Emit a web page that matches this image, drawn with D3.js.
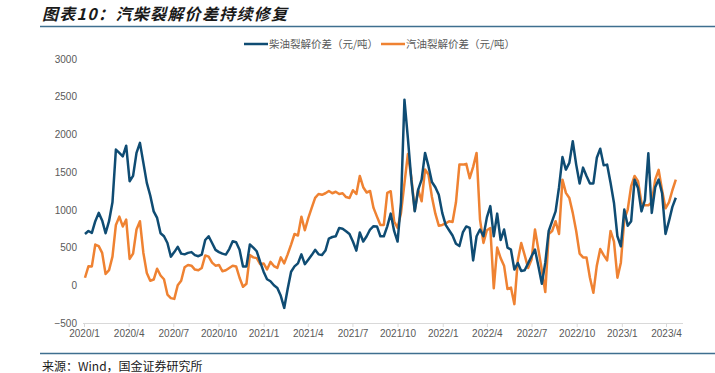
<!DOCTYPE html>
<html><head><meta charset="utf-8">
<script src="https://cdn.jsdelivr.net/npm/d3@7"></script>
<style>
html,body{margin:0;padding:0;background:#fff;}
svg{display:block;}
</style></head>
<body>
<svg id="chart" width="715" height="373"></svg>
<script>
const title = "图表10：汽柴裂解价差持续修复";
const source = "来源：Wind，国金证券研究所";
const seriesNames = ["柴油裂解价差（元/吨）", "汽油裂解价差（元/吨）"];
const seriesColors = ["#0f4c73", "#ef8232"];
const xTickLabels = ["2020/1","2020/4","2020/7","2020/10","2021/1","2021/4","2021/7","2021/10","2022/1","2022/4","2022/7","2022/10","2023/1","2023/4"];
const yTicks = [-500, 0, 500, 1000, 1500, 2000, 2500, 3000];

const dates = [
"2020-01-03","2020-01-10","2020-01-17","2020-01-24","2020-01-31","2020-02-07","2020-02-14","2020-02-21","2020-02-28",
"2020-03-06","2020-03-13","2020-03-20","2020-03-27","2020-04-03","2020-04-10","2020-04-17","2020-04-24",
"2020-05-01","2020-05-08","2020-05-15","2020-05-22","2020-05-29","2020-06-05","2020-06-12","2020-06-19","2020-06-26",
"2020-07-03","2020-07-10","2020-07-17","2020-07-24","2020-07-31","2020-08-07","2020-08-14","2020-08-21","2020-08-28",
"2020-09-04","2020-09-11","2020-09-18","2020-09-25","2020-10-02","2020-10-09","2020-10-16","2020-10-23","2020-10-30",
"2020-11-06","2020-11-13","2020-11-20","2020-11-27","2020-12-04","2020-12-11","2020-12-18","2020-12-25",
"2021-01-01","2021-01-08","2021-01-15","2021-01-22","2021-01-29","2021-02-05","2021-02-12","2021-02-19","2021-02-26",
"2021-03-05","2021-03-12","2021-03-19","2021-03-26","2021-04-02","2021-04-09","2021-04-16","2021-04-23","2021-04-30",
"2021-05-07","2021-05-14","2021-05-21","2021-05-28","2021-06-04","2021-06-11","2021-06-18","2021-06-25",
"2021-07-02","2021-07-09","2021-07-16","2021-07-23","2021-07-30","2021-08-06","2021-08-13","2021-08-20","2021-08-27",
"2021-09-03","2021-09-10","2021-09-17","2021-09-24","2021-10-01","2021-10-08","2021-10-15","2021-10-22","2021-10-29",
"2021-11-05","2021-11-12","2021-11-19","2021-11-26","2021-12-03","2021-12-10","2021-12-17","2021-12-24","2021-12-31",
"2022-01-07","2022-01-14","2022-01-21","2022-01-28","2022-02-04","2022-02-11","2022-02-18","2022-02-25",
"2022-03-04","2022-03-11","2022-03-18","2022-03-25","2022-04-01","2022-04-08","2022-04-15","2022-04-22","2022-04-29",
"2022-05-06","2022-05-13","2022-05-20","2022-05-27","2022-06-03","2022-06-10","2022-06-17","2022-06-24",
"2022-07-01","2022-07-08","2022-07-15","2022-07-22","2022-07-29","2022-08-05","2022-08-12","2022-08-19","2022-08-26",
"2022-09-02","2022-09-09","2022-09-16","2022-09-23","2022-09-30","2022-10-07","2022-10-14","2022-10-21","2022-10-28",
"2022-11-04","2022-11-11","2022-11-18","2022-11-25","2022-12-02","2022-12-09","2022-12-16","2022-12-23","2022-12-30",
"2023-01-06","2023-01-13","2023-01-20","2023-01-27","2023-02-03","2023-02-10","2023-02-17","2023-02-24",
"2023-03-03","2023-03-10","2023-03-17","2023-03-24","2023-03-31","2023-04-07","2023-04-14","2023-04-21"
];

const diesel = [
680,720,695,850,960,860,690,850,1100,
1799,1755,1710,1850,1380,1450,1755,1888,
1623,1358,1190,980,893,690,650,561,380,
440,510,420,410,430,440,400,385,407,
600,650,560,470,440,420,407,480,583,
570,470,250,250,540,500,451,310,
180,80,54,0,-35,-140,-300,-50,180,
250,290,410,280,340,400,470,410,400,
460,620,640,650,760,750,717,680,
580,460,700,580,650,739,783,780,650,
650,782,950,720,580,1100,2460,1950,1400,
980,1269,1402,1755,1579,1370,1300,1200,960,
800,730,660,550,520,700,780,760,
330,650,739,650,900,1050,650,950,600,
739,500,473,208,296,190,200,290,
385,473,252,20,300,720,850,980,1300,
1700,1534,1623,1910,1600,1350,1560,1450,1350,
1350,1690,1810,1590,1600,1358,1092,650,517,
1004,790,850,1400,1290,980,1130,1750,
960,1300,1402,1220,680,850,1040,1160
];

const gasoline = [
100,252,250,540,520,430,150,200,380,
800,910,780,870,350,420,739,849,
429,164,60,76,220,130,80,-123,-170,
-180,0,60,240,270,260,208,200,230,
395,380,300,260,270,186,200,230,260,
250,100,-20,20,400,370,360,280,
290,210,310,255,230,370,290,410,540,
680,660,910,730,890,1026,1158,1210,1200,
1220,1250,1220,1240,1210,1220,1170,1158,
1260,1210,1450,1300,1230,1250,1026,910,800,
800,1225,1247,849,760,960,1350,1740,1430,
990,1269,1114,1534,1468,1170,950,790,800,
820,850,840,1100,1600,1600,1610,1420,
1570,1755,871,562,730,760,-40,500,360,
260,-50,-30,-250,330,560,400,230,
340,739,473,200,-90,680,720,850,680,
1400,1225,1158,960,720,420,370,370,100,
-100,260,480,400,330,720,580,100,300,
871,1004,1313,1450,1380,1092,1060,1060,
1100,1400,1530,1260,1020,1100,1260,1400
];

const svg = d3.select("#chart");
const parse = d3.timeParse("%Y-%m-%d");
const parseTick = d3.timeParse("%Y/%m");

const x = d3.scaleTime()
  .domain([parse("2020-01-01"), parse("2023-04-01")])
  .range([84, 666]);
const y = d3.scaleLinear().domain([-500, 3000]).range([323, 59]);

// Title
svg.append("text")
  .attr("x", 42).attr("y", 20)
  .attr("font-family", "'Noto Sans CJK SC', sans-serif")
  .attr("font-size", 16).attr("font-weight", "bold").attr("font-style", "italic")
  .attr("letter-spacing", 1.3)
  .attr("fill", "#1a1a1a")
  .text(title);
svg.append("line").attr("x1", 40).attr("x2", 715).attr("y1", 26.5).attr("y2", 26.5)
  .attr("stroke", "#3f6f8f").attr("stroke-width", 1.5);

// Footer
svg.append("line").attr("x1", 40).attr("x2", 715).attr("y1", 353.5).attr("y2", 353.5)
  .attr("stroke", "#3f6f8f").attr("stroke-width", 1.5);
svg.append("text")
  .attr("x", 42).attr("y", 371)
  .attr("font-family", "'Noto Sans CJK SC', sans-serif")
  .attr("font-size", 12).attr("fill", "#1a1a1a")
  .text(source);

// Y axis labels
const yAxis = d3.axisLeft(y).tickValues(yTicks).tickFormat(d3.format("d")).tickSize(0).tickPadding(0);
const gy = svg.append("g").attr("transform", "translate(77,0)").call(yAxis);
gy.select(".domain").remove();
gy.selectAll("text")
  .attr("font-family", "'Liberation Sans', Arial, sans-serif")
  .attr("font-size", 10).attr("fill", "#595959");

// X axis
const xAxis = d3.axisBottom(x)
  .tickValues(xTickLabels.map(parseTick))
  .tickFormat((d, i) => xTickLabels[i])
  .tickSize(4).tickPadding(3).tickSizeOuter(0);
const gx = svg.append("g").attr("transform", "translate(0,323)").call(xAxis);
gx.select(".domain").attr("stroke", "#d9d9d9").attr("d", "M83,0.5H683");
gx.selectAll(".tick line").attr("stroke", "#d9d9d9");
gx.selectAll("text")
  .attr("font-family", "'Liberation Sans', Arial, sans-serif")
  .attr("font-size", 10).attr("fill", "#595959");

// Lines
const series = [diesel, gasoline];
const line = d3.line()
  .x((d, i) => x(parse(dates[i])))
  .y(d => y(d));
series.slice().reverse().forEach((vals, j) => {
  const idx = series.length - 1 - j;
  svg.append("path")
    .datum(vals)
    .attr("fill", "none")
    .attr("stroke", seriesColors[idx])
    .attr("stroke-width", 2.5)
    .attr("stroke-linejoin", "round")
    .attr("d", line);
});

// Legend
const legendX = [244, 381];
seriesNames.forEach((name, i) => {
  const g = svg.append("g").attr("transform", `translate(${legendX[i]},44)`);
  g.append("line").attr("x1", 0).attr("x2", 24).attr("y1", 0).attr("y2", 0)
    .attr("stroke", seriesColors[i]).attr("stroke-width", 2.5);
  g.append("text").attr("x", 25).attr("y", 4)
    .attr("font-family", "'Noto Sans CJK SC', sans-serif")
    .attr("font-size", 10.5).attr("fill", "#595959")
    .text(name);
});
</script>
</body></html>
